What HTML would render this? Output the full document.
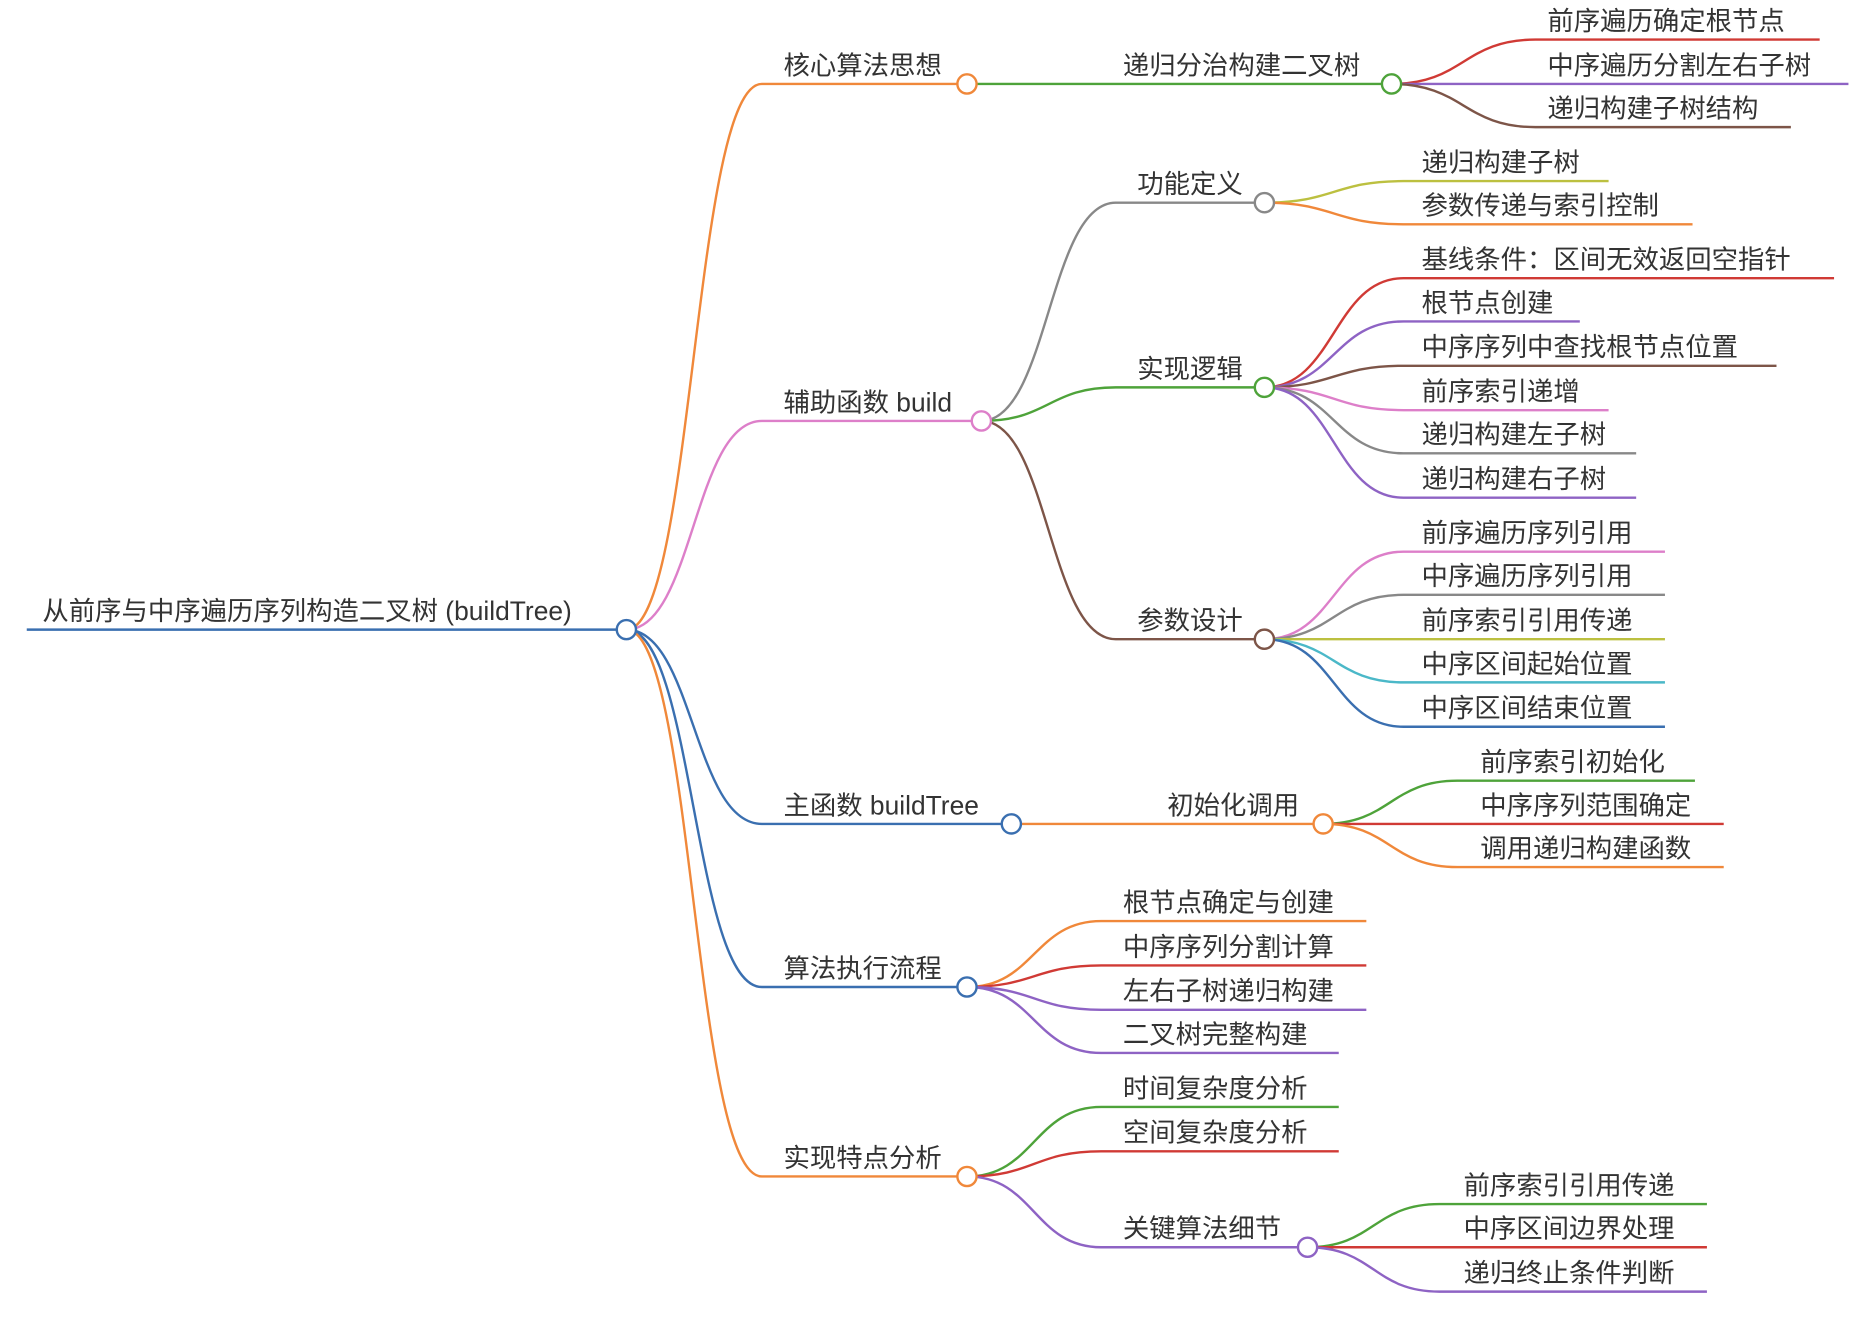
<!DOCTYPE html>
<html><head><meta charset="utf-8"><style>
html,body{margin:0;padding:0;background:#fff;}
svg{display:block;}
text{font-family:"Liberation Sans","Noto Sans CJK SC",sans-serif;font-size:22px;fill:#333;}
path{fill:none;stroke-width:2;}
circle{fill:#fff;stroke-width:2;}
</style></head><body>
<svg width="1862" height="1318" viewBox="0 0 1552 1099" xmlns="http://www.w3.org/2000/svg">
<!-- root edges -->
<path d="M522 525 C578 525 578 70 635 70 H806" stroke="#f0883a"/>
<path d="M522 525 C578 525 578 351 635 351 H818" stroke="#dd7fc9"/>
<path d="M522 525 C578 525 578 687 635 687 H843" stroke="#3a6fb0"/>
<path d="M522 525 C578 525 578 823 635 823 H806" stroke="#3a6fb0"/>
<path d="M522 525 C578 525 578 981 635 981 H806" stroke="#f0883a"/>
<path d="M22 525 H522" stroke="#3a6fb0" stroke-width="3"/>
<!-- 核心 -->
<path d="M806 70 H1160" stroke="#4ea33a"/>
<path d="M1160 70 C1220 70 1220 33 1280 33 H1517" stroke="#d03a35"/>
<path d="M1160 70 H1541" stroke="#8e63c4"/>
<path d="M1160 70 C1220 70 1220 106 1280 106 H1493" stroke="#7d5548"/>
<!-- build -->
<path d="M818 351 C874 351 874 169 930 169 H1054" stroke="#888"/>
<path d="M818 351 C874 351 874 323 930 323 H1054" stroke="#4ea33a"/>
<path d="M818 351 C874 351 874 533 930 533 H1054" stroke="#7d5548"/>
<path d="M1054 169 C1112 169 1112 151 1170 151 H1341" stroke="#bcc040"/>
<path d="M1054 169 C1112 169 1112 187 1170 187 H1411" stroke="#f0883a"/>
<path d="M1054 323 C1112 323 1112 232 1170 232 H1529" stroke="#d03a35"/>
<path d="M1054 323 C1112 323 1112 268 1170 268 H1317" stroke="#8e63c4"/>
<path d="M1054 323 C1112 323 1112 305 1170 305 H1481" stroke="#7d5548"/>
<path d="M1054 323 C1112 323 1112 342 1170 342 H1341" stroke="#dd7fc9"/>
<path d="M1054 323 C1112 323 1112 378 1170 378 H1364" stroke="#888"/>
<path d="M1054 323 C1112 323 1112 415 1170 415 H1364" stroke="#8e63c4"/>
<path d="M1054 533 C1112 533 1112 460 1170 460 H1388" stroke="#dd7fc9"/>
<path d="M1054 533 C1112 533 1112 496 1170 496 H1388" stroke="#888"/>
<path d="M1054 533 H1388" stroke="#bcc040"/>
<path d="M1054 533 C1112 533 1112 569 1170 569 H1388" stroke="#4bb8c8"/>
<path d="M1054 533 C1112 533 1112 606 1170 606 H1388" stroke="#3a6fb0"/>
<!-- 主函数 -->
<path d="M843 687 H1103" stroke="#f0883a"/>
<path d="M1103 687 C1159 687 1159 651 1215 651 H1413" stroke="#4ea33a"/>
<path d="M1103 687 H1437" stroke="#d03a35"/>
<path d="M1103 687 C1159 687 1159 723 1215 723 H1437" stroke="#f0883a"/>
<!-- 算法执行流程 -->
<path d="M806 823 C862 823 862 768 918 768 H1139" stroke="#f0883a"/>
<path d="M806 823 C862 823 862 805 918 805 H1139" stroke="#d03a35"/>
<path d="M806 823 C862 823 862 842 918 842 H1139" stroke="#8e63c4"/>
<path d="M806 823 C862 823 862 878 918 878 H1116" stroke="#8e63c4"/>
<!-- 实现特点分析 -->
<path d="M806 981 C862 981 862 923 918 923 H1116" stroke="#4ea33a"/>
<path d="M806 981 C862 981 862 960 918 960 H1116" stroke="#d03a35"/>
<path d="M806 981 C862 981 862 1040 918 1040 H1090" stroke="#8e63c4"/>
<path d="M1090 1040 C1145 1040 1145 1004 1200 1004 H1423" stroke="#4ea33a"/>
<path d="M1090 1040 H1423" stroke="#d03a35"/>
<path d="M1090 1040 C1145 1040 1145 1077 1200 1077 H1423" stroke="#8e63c4"/>
<!-- circles -->
<circle cx="522" cy="525" r="8" stroke="#3a6fb0"/>
<circle cx="806" cy="70" r="8" stroke="#f0883a"/>
<circle cx="1160" cy="70" r="8" stroke="#4ea33a"/>
<circle cx="818" cy="351" r="8" stroke="#dd7fc9"/>
<circle cx="1054" cy="169" r="8" stroke="#888"/>
<circle cx="1054" cy="323" r="8" stroke="#4ea33a"/>
<circle cx="1054" cy="533" r="8" stroke="#7d5548"/>
<circle cx="843" cy="687" r="8" stroke="#3a6fb0"/>
<circle cx="1103" cy="687" r="8" stroke="#f0883a"/>
<circle cx="806" cy="823" r="8" stroke="#3a6fb0"/>
<circle cx="806" cy="981" r="8" stroke="#f0883a"/>
<circle cx="1090" cy="1040" r="8" stroke="#8e63c4"/>
<!-- labels -->
<text x="35" y="517">从前序与中序遍历序列构造二叉树 (buildTree)</text>
<text x="653" y="62">核心算法思想</text>
<text x="936" y="62">递归分治构建二叉树</text>
<text x="1290" y="25">前序遍历确定根节点</text>
<text x="1290" y="62">中序遍历分割左右子树</text>
<text x="1290" y="98">递归构建子树结构</text>
<text x="653" y="343">辅助函数 build</text>
<text x="948" y="161">功能定义</text>
<text x="1185" y="143">递归构建子树</text>
<text x="1185" y="179">参数传递与索引控制</text>
<text x="948" y="315">实现逻辑</text>
<text x="1185" y="224">基线条件：区间无效返回空指针</text>
<text x="1185" y="260">根节点创建</text>
<text x="1185" y="297">中序序列中查找根节点位置</text>
<text x="1185" y="334">前序索引递增</text>
<text x="1185" y="370">递归构建左子树</text>
<text x="1185" y="407">递归构建右子树</text>
<text x="948" y="525">参数设计</text>
<text x="1185" y="452">前序遍历序列引用</text>
<text x="1185" y="488">中序遍历序列引用</text>
<text x="1185" y="525">前序索引引用传递</text>
<text x="1185" y="561">中序区间起始位置</text>
<text x="1185" y="598">中序区间结束位置</text>
<text x="653" y="679">主函数 buildTree</text>
<text x="973" y="679">初始化调用</text>
<text x="1234" y="643">前序索引初始化</text>
<text x="1234" y="679">中序序列范围确定</text>
<text x="1234" y="715">调用递归构建函数</text>
<text x="653" y="815">算法执行流程</text>
<text x="936" y="760">根节点确定与创建</text>
<text x="936" y="797">中序序列分割计算</text>
<text x="936" y="834">左右子树递归构建</text>
<text x="936" y="870">二叉树完整构建</text>
<text x="653" y="973">实现特点分析</text>
<text x="936" y="915">时间复杂度分析</text>
<text x="936" y="952">空间复杂度分析</text>
<text x="936" y="1032">关键算法细节</text>
<text x="1220" y="996">前序索引引用传递</text>
<text x="1220" y="1032">中序区间边界处理</text>
<text x="1220" y="1069">递归终止条件判断</text>
</svg>
</body></html>
